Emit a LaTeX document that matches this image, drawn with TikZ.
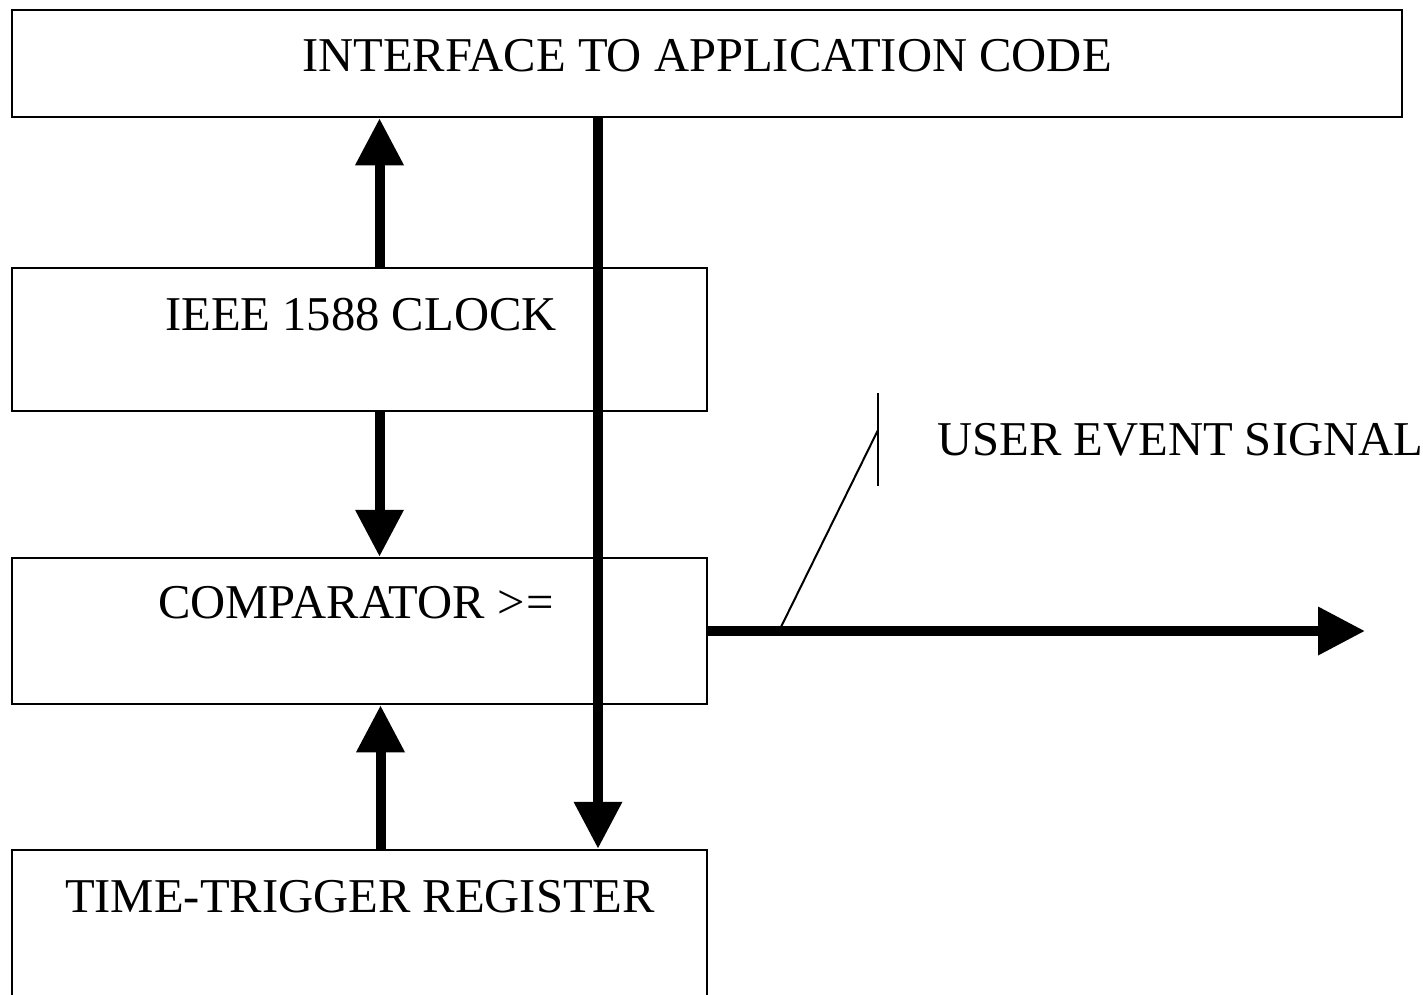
\documentclass[tikz,border=0pt]{standalone}
\usepackage{fontspec}
\setmainfont{Liberation Serif}
\usepackage{tikz}
\usetikzlibrary{arrows.meta,positioning}
\tikzset{
  blk/.style={draw, line width=2.5pt, rectangle, inner sep=0pt},
  txt/.style={font=\fontsize{48.6}{58}\selectfont, inner sep=0pt},
  fat/.style={line width=10pt, -{Triangle[length=47pt,width=46pt]}},
  thin/.style={line width=2pt}
}

\begin{document}
\begin{tikzpicture}[x=1pt,y=-1pt]
   \useasboundingbox (0,0) rectangle (1423,994);
   \clip (0,0) rectangle (1423,994);

   % blocks
   \node[blk, minimum width=1390pt, minimum height=107pt] (app) at (707,63.5) {};
   \node[blk, minimum width=695pt, minimum height=143pt] (clk) at (359.5,339.5) {};
   \node[blk, minimum width=695pt, minimum height=146pt] (cmp) at (359.5,631) {};
   \node[blk, minimum width=695pt, minimum height=160pt] (trg) at (359.5,930) {};

   % labels
   \node[txt, anchor=base] (applbl) at (707,71) {INTERFACE TO APPLICATION CODE};
   \node[txt, anchor=base west] (clklbl) at (165,330) {IEEE 1588 CLOCK};
   \node[txt, anchor=base west] (cmplbl) at (158,618) {COMPARATOR >\kern2pt=};
   \node[txt, anchor=base] (trglbl) at (360,912) {TIME-TRIGGER REGISTER};
   \node[txt, anchor=base west] (evtlbl) at (937,455) {USER EVENT SIGNAL};

   % arrows between blocks
   \draw[fat] ([xshift=20pt]clk.north) -- ([xshift=20pt]clk.north |- app.south);
   \draw[fat] ([xshift=20pt]clk.south) -- ([xshift=20pt]clk.south |- cmp.north);
   \draw[fat] ([xshift=21pt]trg.north) -- ([xshift=21pt]trg.north |- cmp.south);
   \draw[fat] (app.south -| 598,0) -- (trg.north -| 598,0);

   % user event output
   \coordinate (out) at (1365,631);
   \draw[fat] (cmp.east) -- (out);
   \coordinate (tickt) at (878,393);
   \coordinate (tickb) at (878,486);
   \draw[thin] (tickt) -- (tickb);
   \draw[thin] (878,430) -- (cmp.east -| 779,0);
\end{tikzpicture}
\end{document}
